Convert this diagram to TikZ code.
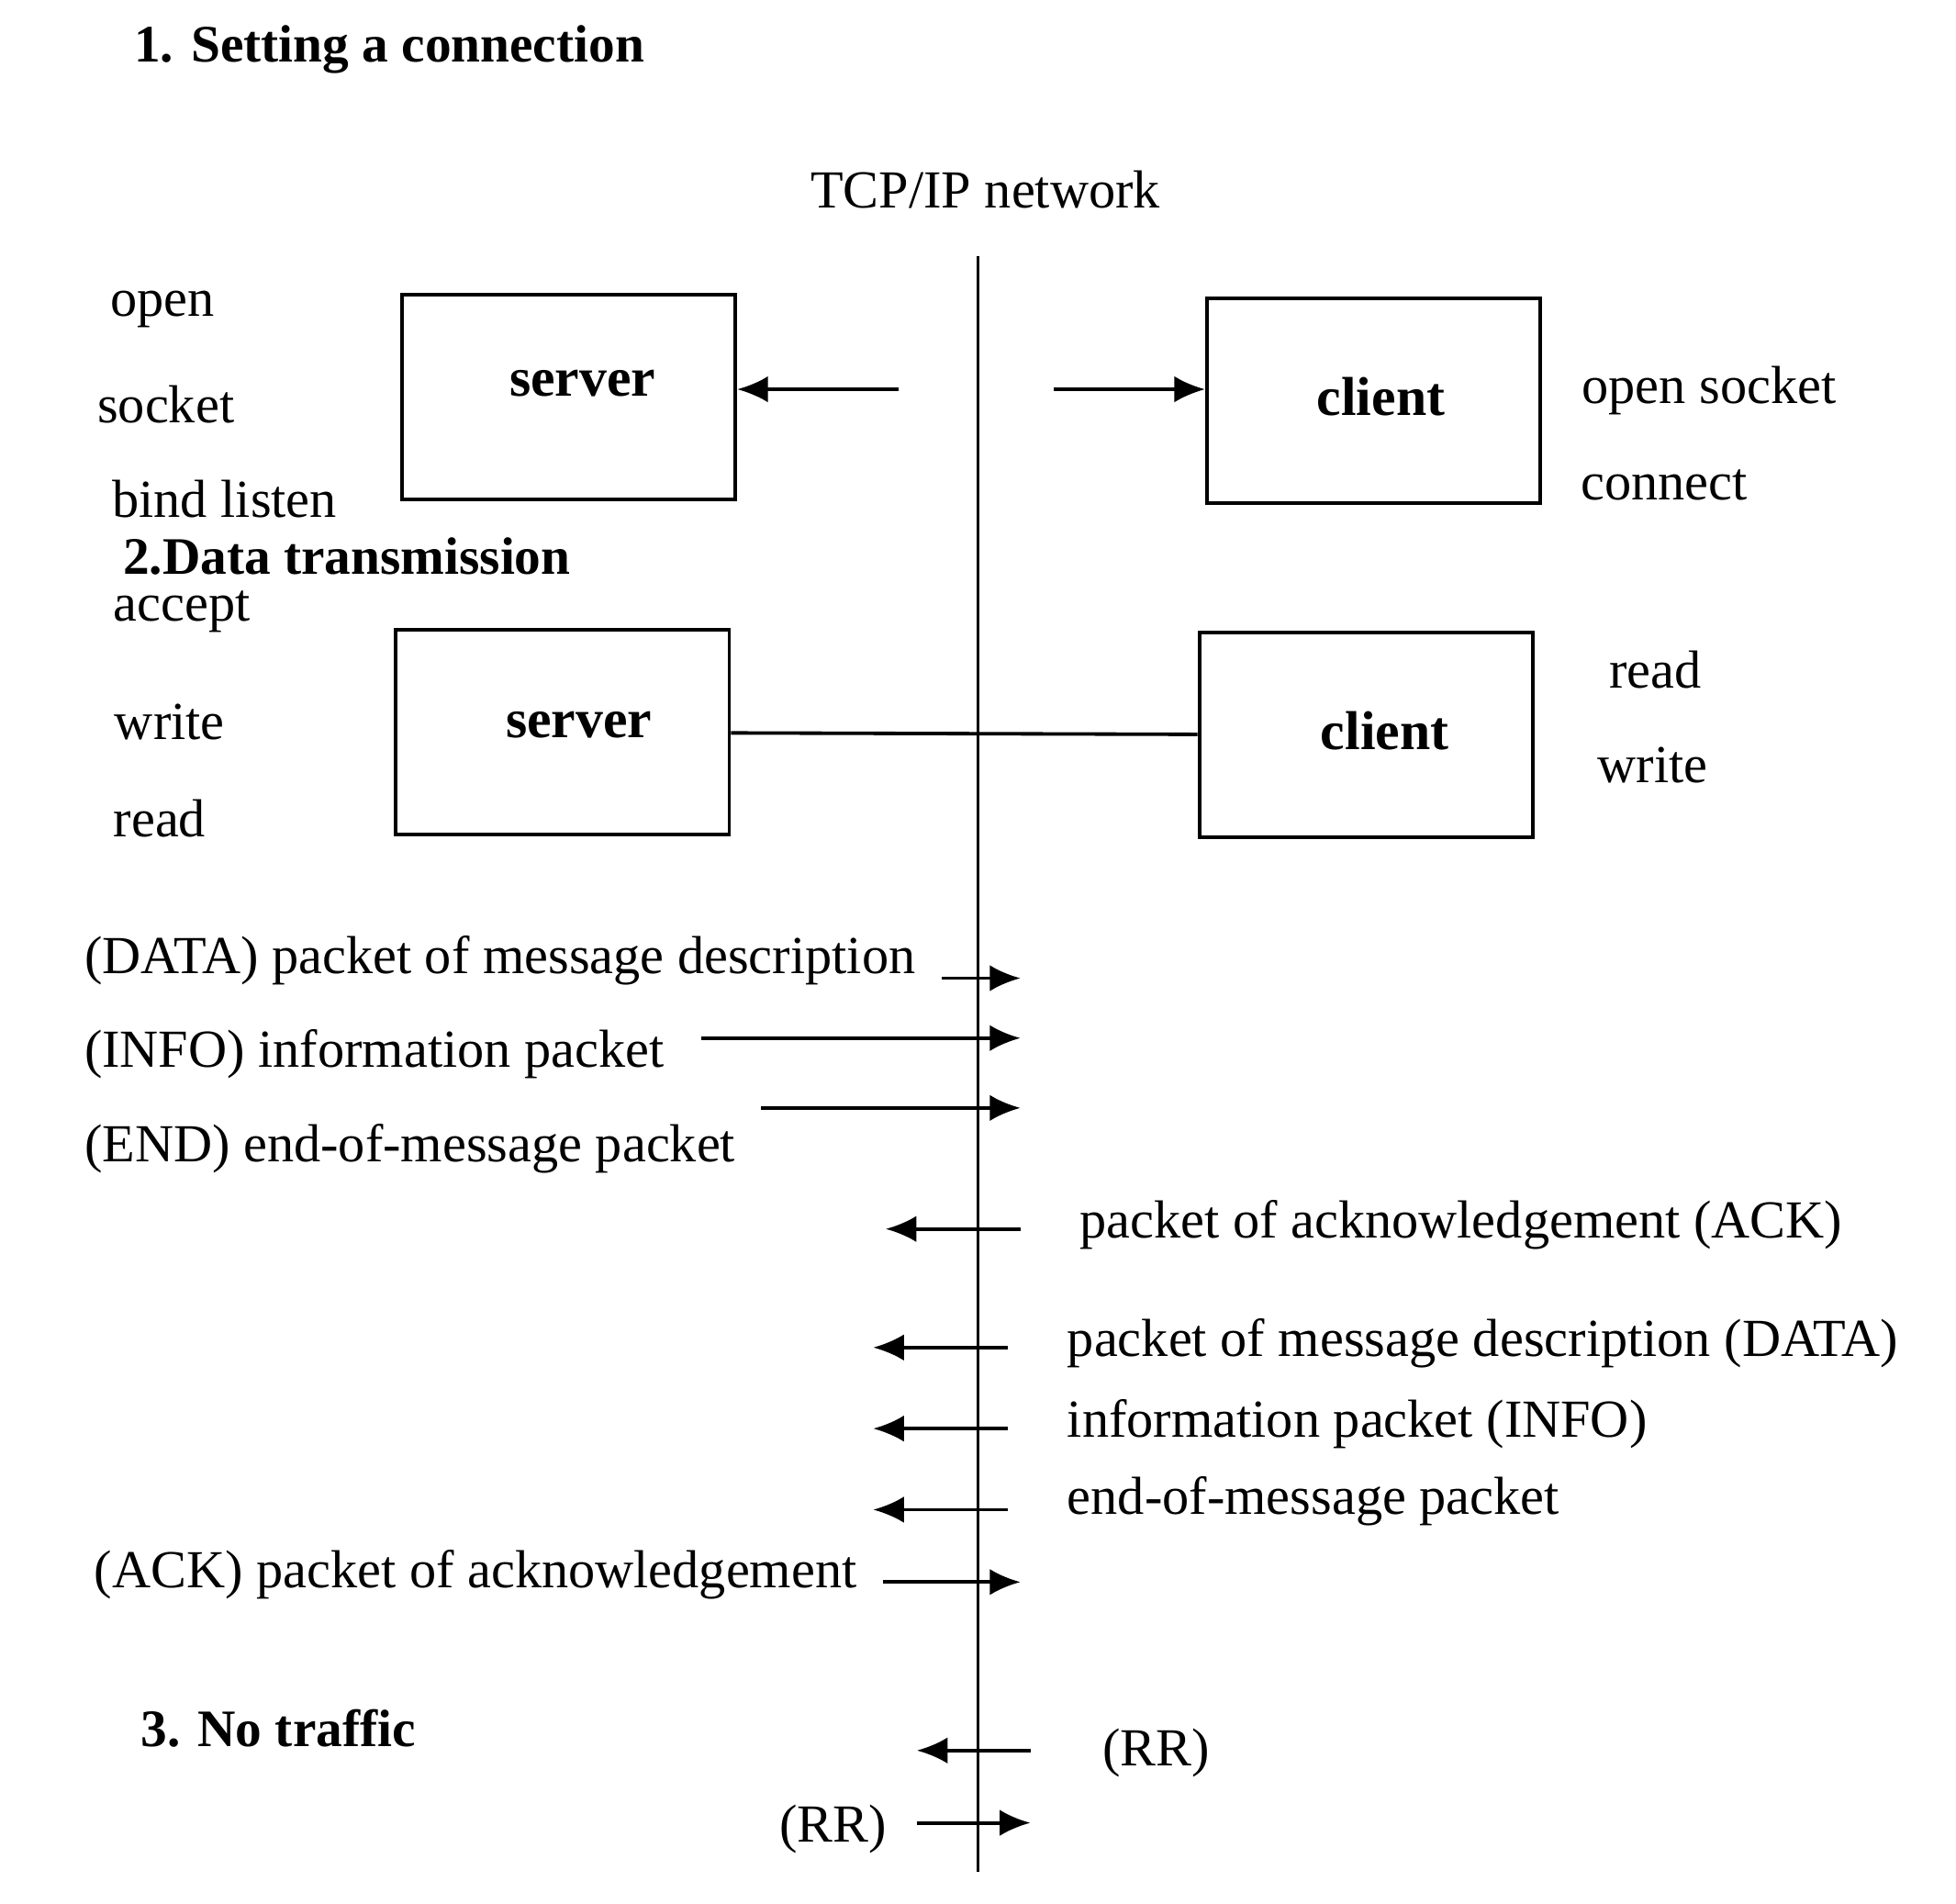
\documentclass[tikz,border=0pt]{standalone}
\usepackage{fontspec}
\setmainfont{Liberation Serif}
\usetikzlibrary{arrows.meta}
\tikzset{
  box/.style={draw,thick,minimum width=2.67cm,minimum height=1.64cm},
  lbl/.style={font=\fontsize{12.2}{14}\selectfont,inner sep=0pt},
  ttl/.style={font=\fontsize{12}{14}\selectfont\bfseries,inner sep=0pt},
  tag/.style={font=\fontsize{12.5}{14}\selectfont\bfseries,inner sep=0pt},
  msg/.style={thick,-{Latex[length=7pt,width=6pt]}}
}
\begin{document}
\begin{tikzpicture}[x=0.01cm,y=-0.01cm]
  \useasboundingbox (0,0) rectangle (1568,1526);

  % phases
  \node[ttl] (phase1) at (312,40) {1. Setting a connection};
  \node[ttl] (phase2) at (278,446) {2.Data transmission};
  \node[ttl] (phase3) at (223,1385) {3. No traffic};

  % network
  \node[lbl] (net) at (790,152) {TCP/IP network};
  \coordinate (nettop) at (784,205);
  \coordinate (netbot) at (784,1500);
  \draw[thick] (nettop) -- (netbot);

  % connection
  \node[box] (srv1) at (456,318) {};
  \node[tag] at (467,307) {server};
  \node[box] (cli1) at (1101,321) {};
  \node[tag] at (1107,318) {client};
  \coordinate (a1) at (720,312);
  \coordinate (a2) at (845,312);
  \draw[msg] (a1) -- (srv1.east |- a1);
  \draw[msg] (a2) -- (cli1.west |- a2);
  \node[lbl] (open) at (130,248) {open};
  \node[lbl] (sock) at (133,324) {socket};
  \node[lbl] (bind) at (180,400) {bind listen};
  \node[lbl] (acc) at (146,490) {accept};
  \node[lbl] (osock) at (1370,313) {open socket};
  \node[lbl] (conn) at (1334,389) {connect};

  % transmission
  \node[box] (srv2) at (451,587) {};
  \node[tag] at (464,581) {server};
  \node[box] (cli2) at (1095,589) {};
  \node[tag] at (1110,586) {client};
  \draw[thick] (srv2) -- (cli2);
  \node[lbl] (w1) at (136,579) {write};
  \node[lbl] (r1) at (128,656) {read};
  \node[lbl] (r2) at (1327,537) {read};
  \node[lbl] (w2) at (1325,613) {write};

  % client side packets
  \node[lbl,anchor=west] (pdata) at (67,770) {(DATA) packet of message description};
  \node[lbl,anchor=west] (pinfo) at (67,845) {(INFO) information packet};
  \node[lbl,anchor=west] (pend) at (67,921) {(END) end-of-message packet};
  \node[lbl,anchor=west] (pack) at (75,1262) {(ACK) packet of acknowledgement};
  \coordinate (d0) at (755,784); \coordinate (d1) at (818,784);
  \coordinate (i0) at (562,832); \coordinate (i1) at (818,832);
  \coordinate (e0) at (610,888); \coordinate (e1) at (818,888);
  \coordinate (k0) at (708,1268); \coordinate (k1) at (818,1268);
  \draw[msg] (d0) -- (d1);
  \draw[msg] (i0) -- (i1);
  \draw[msg] (e0) -- (e1);
  \draw[msg] (k0) -- (k1);

  % server side packets
  \node[lbl,anchor=west] (qack) at (865,982) {packet of acknowledgement (ACK)};
  \node[lbl,anchor=west] (qdata) at (855,1077) {packet of message description (DATA)};
  \node[lbl,anchor=west] (qinfo) at (855,1141) {information packet (INFO)};
  \node[lbl,anchor=west] (qend) at (855,1203) {end-of-message packet};
  \coordinate (qk0) at (818,985); \coordinate (qk1) at (710,985);
  \coordinate (qd0) at (808,1080); \coordinate (qd1) at (700,1080);
  \coordinate (qi0) at (808,1145); \coordinate (qi1) at (700,1145);
  \coordinate (qe0) at (808,1210); \coordinate (qe1) at (700,1210);
  \draw[msg] (qk0) -- (qk1);
  \draw[msg] (qd0) -- (qd1);
  \draw[msg] (qi0) -- (qi1);
  \draw[msg] (qe0) -- (qe1);

  % no traffic
  \node[lbl] (rr1) at (927,1405) {(RR)};
  \node[lbl] (rr2) at (668,1466) {(RR)};
  \coordinate (r10) at (826,1403); \coordinate (r11) at (735,1403);
  \coordinate (r20) at (735,1461); \coordinate (r21) at (826,1461);
  \draw[msg] (r10) -- (r11);
  \draw[msg] (r20) -- (r21);
\end{tikzpicture}
\end{document}
